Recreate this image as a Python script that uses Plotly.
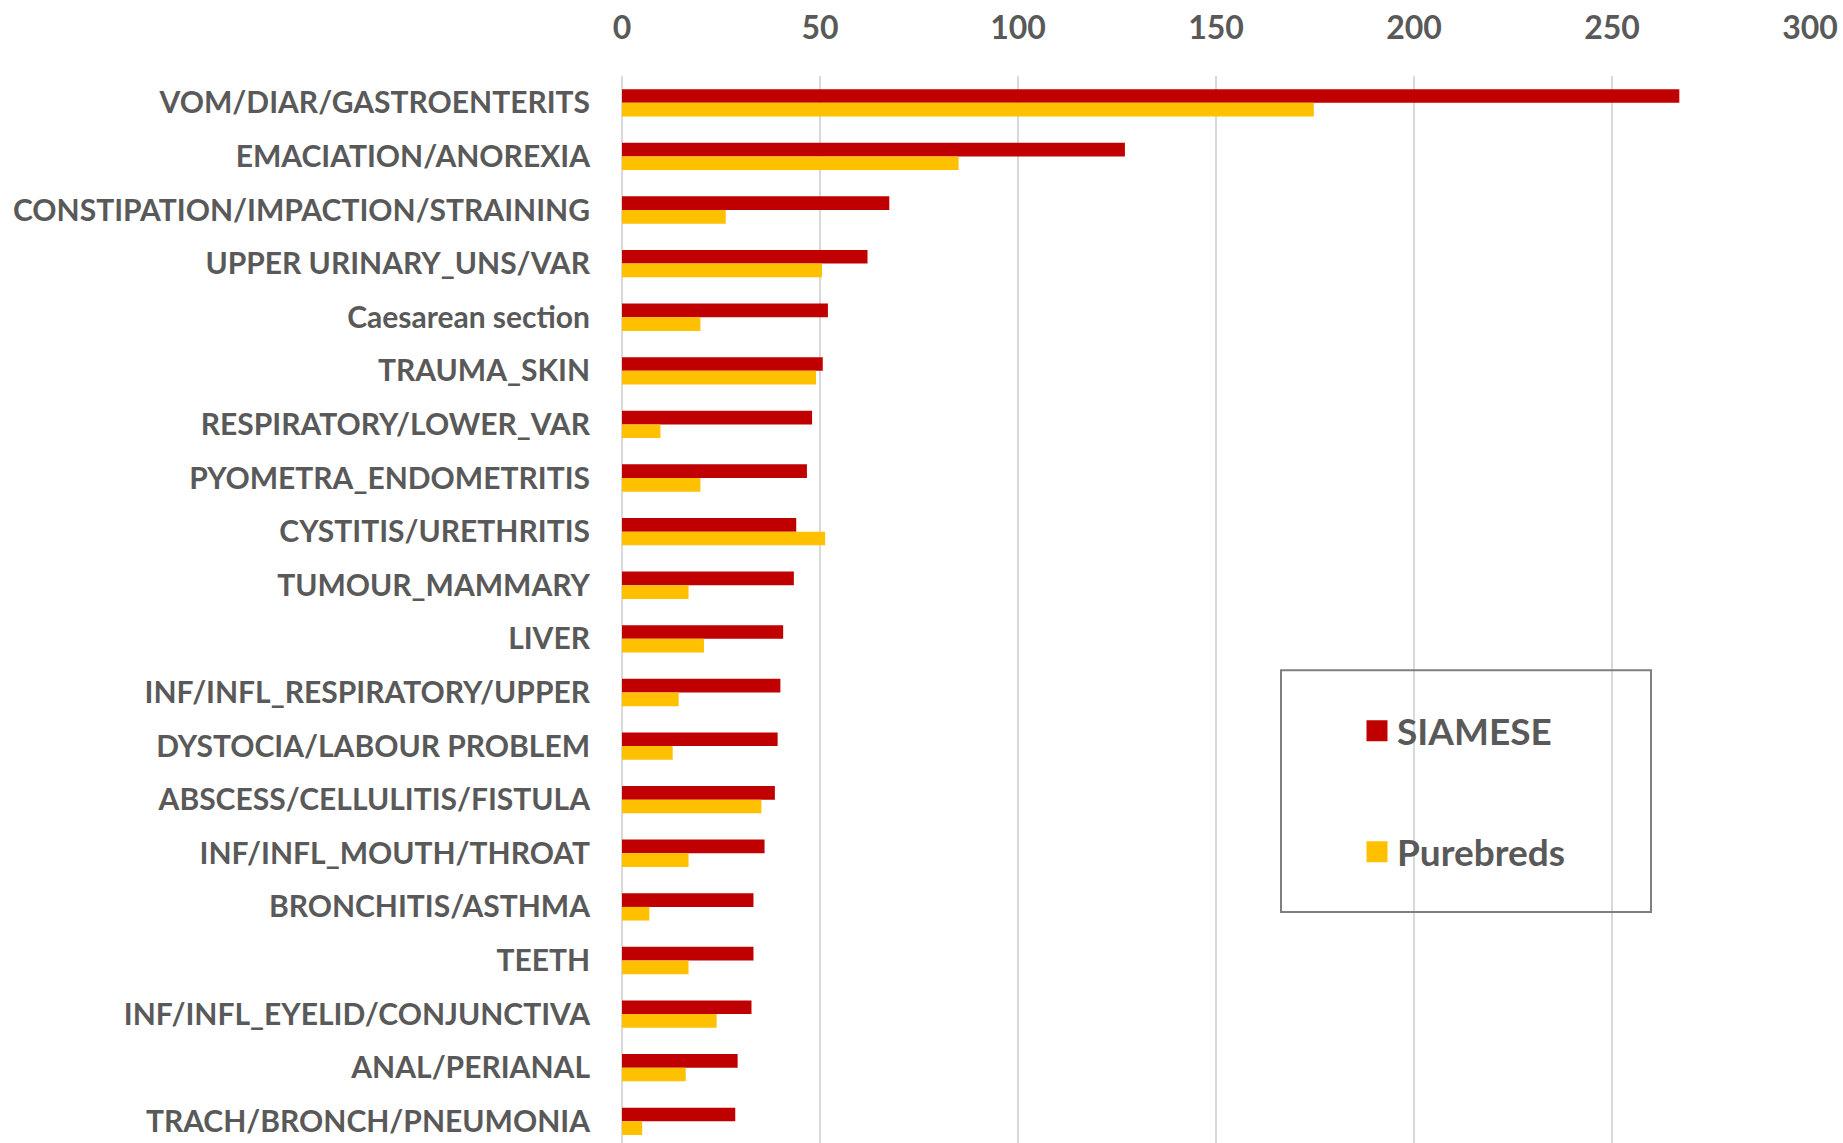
import plotly.graph_objects as go

categories = [
    "VOM/DIAR/GASTROENTERITS",
    "EMACIATION/ANOREXIA",
    "CONSTIPATION/IMPACTION/STRAINING",
    "UPPER URINARY_UNS/VAR",
    "Caesarean section",
    "TRAUMA_SKIN",
    "RESPIRATORY/LOWER_VAR",
    "PYOMETRA_ENDOMETRITIS",
    "CYSTITIS/URETHRITIS",
    "TUMOUR_MAMMARY",
    "LIVER",
    "INF/INFL_RESPIRATORY/UPPER",
    "DYSTOCIA/LABOUR PROBLEM",
    "ABSCESS/CELLULITIS/FISTULA",
    "INF/INFL_MOUTH/THROAT",
    "BRONCHITIS/ASTHMA",
    "TEETH",
    "INF/INFL_EYELID/CONJUNCTIVA",
    "ANAL/PERIANAL",
    "TRACH/BRONCH/PNEUMONIA",
]
siamese = [267, 127, 67.5, 62, 52, 50.7, 48, 46.7, 44, 43.4, 40.7, 40, 39.3, 38.6,
           36, 33.2, 33.2, 32.7, 29.2, 28.6]
purebreds = [174.7, 85, 26.2, 50.5, 19.8, 49, 9.7, 19.8, 51.3, 16.8, 20.7, 14.3, 12.8,
             35.2, 16.8, 6.9, 16.8, 23.9, 16.1, 5.1]
series_names = ["SIAMESE", "Purebreds"]
colors = ["#C00000", "#FFC000"]
x_ticks = [0, 50, 100, 150, 200, 250, 300]

TEXT = "#595959"
W, H = 1843, 1143
L, R, T, B = 622, 33, 75.5, 0
ROW = 53.63  # px per category in the reference
y_span = (H - T - B) / ROW

fig = go.Figure()
for name, vals, col, off in zip(series_names, [siamese, purebreds], colors, [-0.255, 0.0]):
    fig.add_trace(go.Bar(
        y=categories, x=vals, orientation="h", name=name,
        marker=dict(color=col, line=dict(width=0)),
        width=0.255, offset=off, showlegend=False,
    ))
# legend-only entries (on hidden overlay axes so they do not affect the bars)
for i, (name, col) in enumerate(zip(series_names, colors)):
    fig.add_trace(go.Scatter(
        x=[None], y=[None], mode="markers", name=name,
        marker=dict(symbol="square", size=16, color=col, line=dict(color=col, width=5)),
        legendgroup=f"g{i}", xaxis="x2", yaxis="y2", showlegend=True,
    ))

pw = W - L - R
ph = H - T - B
def px(xf):
    return (xf - L) / pw
def py(yf):
    return 1 - (yf - T) / ph

fig.update_layout(
    template="none",
    width=W, height=H,
    margin=dict(l=L, r=R, t=T, b=B, pad=0),
    paper_bgcolor="white", plot_bgcolor="white",
    barmode="overlay",
    font=dict(family="Lato", color=TEXT),
    xaxis=dict(
        side="top", range=[0, 300], tickvals=x_ticks, ticks="",
        showgrid=True, gridcolor="#D9D9D9", gridwidth=1.5,
        zeroline=True, zerolinecolor="#D9D9D9", zerolinewidth=1.5,
        showline=False, ticklabelstandoff=30, automargin=False,
        tickfont=dict(family="Lato", size=32, color=TEXT, weight="bold"),
    ),
    yaxis=dict(
        range=[y_span - 0.5, -0.5], ticks="", showgrid=False, showline=False,
        zeroline=False, ticklabelstandoff=31, automargin=False,
        tickfont=dict(family="Lato", size=30, color=TEXT, weight="bold"),
    ),
    xaxis2=dict(overlaying="x", visible=False, range=[0, 1], automargin=False),
    yaxis2=dict(overlaying="y", visible=False, range=[0, 1], automargin=False),
    legend=dict(
        x=px(1357), y=py(700), xanchor="left", yanchor="top",
        bgcolor="rgba(0,0,0,0)", borderwidth=0,
        traceorder="grouped", tracegroupgap=70,
        font=dict(family="Lato", size=37, color=TEXT, weight="bold"),
    ),
    shapes=[dict(
        type="rect", xref="paper", yref="paper",
        x0=px(1281), x1=px(1651), y0=py(912), y1=py(670),
        line=dict(color="#7F7F7F", width=2), fillcolor="rgba(0,0,0,0)",
    )],
)

fig.write_html(
    "out.html",
    config={"displayModeBar": False},
    post_script="document.body.style.margin='0';document.body.style.padding='0';",
)
